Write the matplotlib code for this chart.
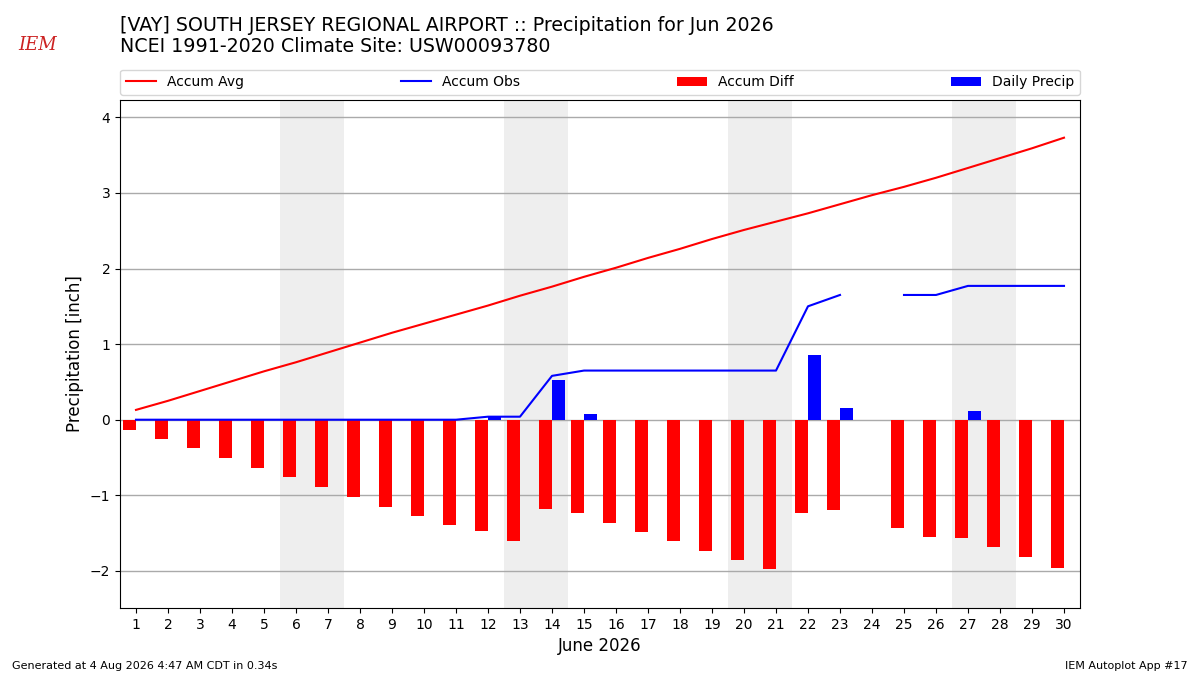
import matplotlib
matplotlib.use("Agg")
import matplotlib.pyplot as plt
import numpy as np

days = list(range(1, 31))
accum_avg = [0.13, 0.25, 0.38, 0.51, 0.64, 0.76, 0.89, 1.02, 1.15, 1.27,
             1.39, 1.51, 1.64, 1.76, 1.89, 2.01, 2.14, 2.26, 2.39, 2.51,
             2.62, 2.73, 2.85, 2.97, 3.08, 3.20, 3.33, 3.46, 3.59, 3.73]
daily_precip = [0, 0, 0, 0, 0, 0, 0, 0, 0, 0,
                0, 0.04, 0, 0.53, 0.07, 0, 0, 0, 0, 0,
                0, 0.85, 0.15, None, 0, 0, 0.12, 0, 0, 0]
accum_obs = [0, 0, 0, 0, 0, 0, 0, 0, 0, 0,
             0, 0.04, 0.04, 0.58, 0.65, 0.65, 0.65, 0.65, 0.65, 0.65,
             0.65, 1.50, 1.65, None, 1.65, 1.65, 1.77, 1.77, 1.77, 1.77]
weekends = [(5.5, 7.5), (12.5, 14.5), (19.5, 21.5), (26.5, 28.5)]

obs = np.array([np.nan if v is None else v for v in accum_obs], dtype=float)
dly = np.array([np.nan if v is None else v for v in daily_precip], dtype=float)
avg = np.array(accum_avg, dtype=float)
diff = obs - avg
x = np.array(days)

fig = plt.figure(figsize=(12, 6.75), dpi=100)
ax = fig.add_axes([0.1, 0.0993, 0.8, 0.7527])

for a, b in weekends:
    ax.axvspan(a, b, color="#eeeeee", zorder=0, lw=0)

ax.plot(x, avg, color="red", lw=1.5, label="Accum Avg", zorder=3)
ax.plot(x, obs, color="blue", lw=1.5, label="Accum Obs", zorder=3)
m = ~np.isnan(diff)
ax.bar(x[m], diff[m], width=-0.4, align="edge", color="red", label="Accum Diff", zorder=2)
m2 = ~np.isnan(dly)
ax.bar(x[m2], dly[m2], width=0.4, align="edge", color="blue", label="Daily Precip", zorder=2)

ax.set_xlim(0.5, 30.5)
ax.set_ylim(-2.49, 4.23)
ax.set_xticks(days)
ax.set_yticks([-2, -1, 0, 1, 2, 3, 4])
ax.set_yticklabels(["\u22122", "\u22121", "0", "1", "2", "3", "4"])
ax.grid(axis="y", color="#aaaaaa", lw=1, zorder=1)
ax.set_axisbelow(True)
ax.tick_params(labelsize=10)
ax.set_xlabel("June 2026", fontsize=12)
ax.set_ylabel("Precipitation [inch]", fontsize=12)

ax.legend(loc="lower left", bbox_to_anchor=(0, 1.01, 1, 0.05), ncol=4,
          mode="expand", fontsize=10, borderaxespad=0, handlelength=2.2)

fig.text(0.1, 0.947, "[VAY] SOUTH JERSEY REGIONAL AIRPORT :: Precipitation for Jun 2026\n"
         "NCEI 1991-2020 Climate Site: USW00093780", fontsize=13.7, va="center", ha="left",
         linespacing=1.15)
fig.text(0.031, 0.933, "IEM", fontsize=13, color="#cc2222", family="DejaVu Serif",
         style="italic", ha="center", va="center")
fig.text(0.01, 0.014, "Generated at 4 Aug 2026 4:47 AM CDT in 0.34s", fontsize=8, ha="left", va="center")
fig.text(0.99, 0.014, "IEM Autoplot App #17", fontsize=8, ha="right", va="center")

fig.savefig("out.png", dpi=100)
